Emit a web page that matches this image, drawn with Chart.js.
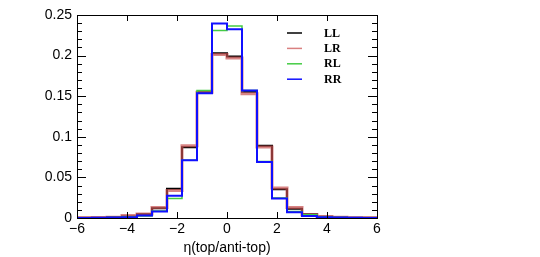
<!DOCTYPE html>
<html><head><meta charset="utf-8">
<script src="https://cdn.jsdelivr.net/npm/chart.js@4/dist/chart.umd.min.js"></script>
<style>html,body{margin:0;padding:0;background:#fff;overflow:hidden}</style>
</head><body>
<canvas id="c" width="540" height="257" style="width:540px;height:257px;display:block"></canvas>
<script>
// Bin left edges (20 bins of width 0.6) and the final right edge
const binEdges = [-6,-5.4,-4.8,-4.2,-3.6,-3.0,-2.4,-1.8,-1.2,-0.6,0,0.6,1.2,1.8,2.4,3.0,3.6,4.2,4.8,5.4,6];
const seriesNames = ["LL","LR","RL","RR"];
const LL = [0.0002,0.0004,0.0008,0.0018,0.0045,0.0120,0.0360,0.0870,0.1550,0.2030,0.1990,0.1555,0.0890,0.0355,0.0115,0.0045,0.0015,0.0006,0.0003,0.0002];
const LR = [0.0002,0.0005,0.0010,0.0030,0.0050,0.0128,0.0340,0.0890,0.1550,0.2015,0.1970,0.1530,0.0875,0.0370,0.0128,0.0040,0.0018,0.0010,0.0004,0.0002];
const RL = [0.0001,0.0003,0.0006,0.0012,0.0025,0.0085,0.0240,0.0710,0.1570,0.2310,0.2365,0.1570,0.0695,0.0245,0.0080,0.0040,0.0012,0.0005,0.0002,0.0001];
const RR = [0.0001,0.0003,0.0006,0.0010,0.0030,0.0080,0.0275,0.0710,0.1535,0.2395,0.2325,0.1570,0.0690,0.0240,0.0070,0.0025,0.0010,0.0005,0.0002,0.0001];
const xTicks = [-6,-4,-2,0,2,4,6];
const yTicks = [0,0.05,0.1,0.15,0.2,0.25];

function histPoints(vals){
  const pts = vals.map((v,i)=>({x:binEdges[i], y:v}));
  pts.push({x:binEdges[binEdges.length-1], y:vals[vals.length-1]});
  return pts;
}

const styles = [
  {color:'#000000', width:2, order:4, legendColor:'#000000'},
  {color:'rgba(200,80,80,0.7)', width:3, order:3, legendColor:'#d98080'},
  {color:'#44cc44', width:1.5, order:2, legendColor:'#44cc44'},
  {color:'#1010ff', width:2, order:1, legendColor:'#1010ff'}
];
const allVals = [LL,LR,RL,RR];

const frameTicks = {
  id:'frameTicks',
  afterDatasetsDraw(chart){
    const {ctx, chartArea:a, scales} = chart;
    const xs = scales.x, ys = scales.y;
    ctx.save();
    ctx.strokeStyle = '#000';
    ctx.lineWidth = 1;
    ctx.beginPath();
    for(let k=0;k<=25;k++){
      const v = k/100;
      const py = Math.round(ys.getPixelForValue(v))+0.5;
      const len = (k%5===0)?9:5;
      ctx.moveTo(a.left, py); ctx.lineTo(a.left+len, py);
      ctx.moveTo(a.right, py); ctx.lineTo(a.right-len, py);
    }
    xTicks.forEach(t=>{
      const px = Math.round(xs.getPixelForValue(t))+0.5;
      ctx.moveTo(px, a.bottom); ctx.lineTo(px, a.bottom-6);
      ctx.moveTo(px, a.top); ctx.lineTo(px, a.top+6);
    });
    ctx.stroke();
    ctx.strokeRect(Math.round(a.left)+0.5, Math.round(a.top)+0.5, Math.round(a.right-a.left), Math.round(a.bottom-a.top));
    ctx.restore();
  }
};

const legendPlugin = {
  id:'innerLegend',
  afterDatasetsDraw(chart){
    const ctx = chart.ctx;
    ctx.save();
    chart.data.datasets.forEach((ds,i)=>{
      const y = 33 + i*15.4;
      ctx.strokeStyle = styles[i].legendColor;
      ctx.lineWidth = 1.5;
      ctx.beginPath(); ctx.moveTo(287,y); ctx.lineTo(302,y); ctx.stroke();
      ctx.fillStyle = '#000';
      ctx.font = 'bold 12px "Liberation Serif", serif';
      ctx.textBaseline = 'middle';
      ctx.textAlign = 'left';
      ctx.fillText(ds.label, 324, y+0.5);
    });
    ctx.restore();
  }
};

new Chart(document.getElementById('c'), {
  type:'line',
  data:{
    datasets: seriesNames.map((n,i)=>({
      label:n,
      data:histPoints(allVals[i]),
      borderColor:styles[i].color,
      borderWidth:styles[i].width,
      order:styles[i].order,
      stepped:'before',
      pointRadius:0,
      fill:false,
      tension:0
    }))
  },
  options:{
    responsive:false,
    animation:false,
    events:[],
    layout:{padding:{left:0,right:163,top:15,bottom:0}},
    plugins:{legend:{display:false},tooltip:{enabled:false}},
    scales:{
      x:{
        type:'linear', min:-6, max:6,
        afterBuildTicks(s){ s.ticks = xTicks.map(v=>({value:v})); },
        afterFit(s){ s.height = 39; },
        grid:{display:false, drawTicks:false},
        border:{display:false},
        ticks:{
          padding:3, color:'#000', maxRotation:0,
          font:{family:'"Liberation Sans", Arial, sans-serif', size:14},
          callback:(v)=>String(v).replace('-', '\u2212')
        },
        title:{display:true, text:'η(top/anti-top)', color:'#000', padding:{top:0,bottom:0},
          font:{family:'"Liberation Sans", Arial, sans-serif', size:14}}
      },
      y:{
        min:0, max:0.25,
        afterBuildTicks(s){ s.ticks = yTicks.map(v=>({value:v})); },
        afterFit(s){ s.width = 77; },
        grid:{display:false, drawTicks:false},
        border:{display:false},
        ticks:{
          padding:5, color:'#000',
          font:{family:'"Liberation Sans", Arial, sans-serif', size:14},
          callback:(v)=>String(Math.round(v*100)/100)
        }
      }
    }
  },
  plugins:[frameTicks, legendPlugin]
});
</script>
</body></html>
